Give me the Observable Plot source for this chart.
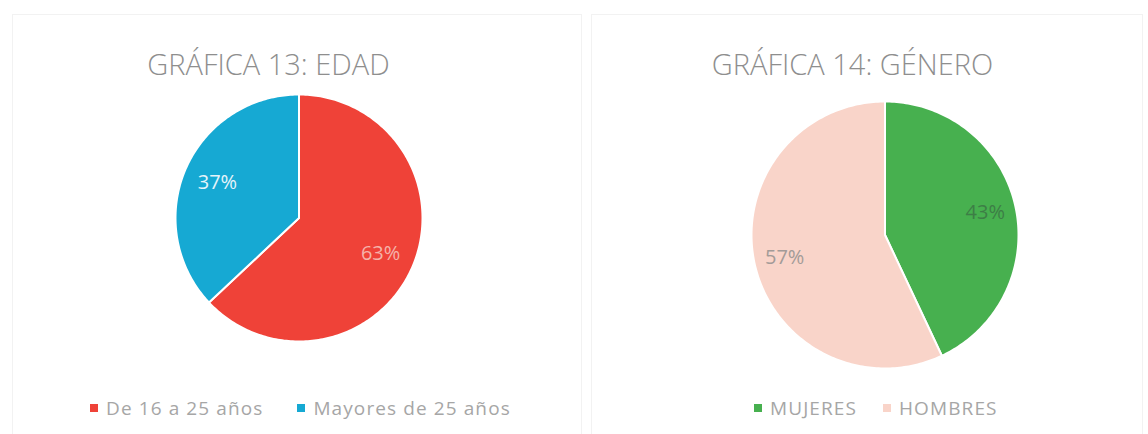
<!DOCTYPE html>
<html>
<head>
<meta charset="utf-8">
<script src="https://cdn.jsdelivr.net/npm/d3@7"></script>
<script src="https://cdn.jsdelivr.net/npm/@observablehq/plot@0.6"></script>
<style>
  html, body { margin: 0; padding: 0; background: #fff; }
  body { width: 1148px; height: 434px; position: relative; overflow: hidden; font-family: "Open Sans", sans-serif; }
  .panel { position: absolute; border: 1px solid #f2f2f2; box-sizing: border-box; }
  .title { position: absolute; transform: translate(-50%, -50%); white-space: nowrap; font-size: 29px; color: #8e8e8e; font-weight: 300; }
  .pie { position: absolute; }
  .legend { position: absolute; display: flex; align-items: center; white-space: nowrap; font-size: 19px; letter-spacing: 1.1px; color: #a6a6a6; transform: translateY(-50%); }
  .legend .item { display: flex; align-items: center; }
  .legend .sw { width: 8px; height: 8px; margin-right: 8px; }
</style>
</head>
<body>
<script>
// ---- data ----
const edadTitulo = "GRÁFICA 13: EDAD";
const edadCategorias = ["De 16 a 25 años", "Mayores de 25 años"];
const edadValores = [63, 37];
const edadEtiquetas = ["63%", "37%"];

const generoTitulo = "GRÁFICA 14: GÉNERO";
const generoCategorias = ["MUJERES", "HOMBRES"];
const generoValores = [43, 57];
const generoEtiquetas = ["43%", "57%"];

// ---- styles ----
const edadColores = ["#ef4238", "#16a9d3"];
const edadColoresTexto = ["#f5b3aa", "#e6f4fa"];
const generoColores = ["#47b04f", "#f9d4c9"];
const generoColoresTexto = ["#3d7e46", "#a39b98"];

function drawPanel(cfg) {
  const {cats, vals, labels, colors, textColors, cx, cy, r, labelFrac, titleText, tx, ty, legendX, legendY, legendGap} = cfg;
  const total = d3.sum(vals);
  const pad = 3;
  const S = 2 * (r + pad);
  // slice polygons from the values (clockwise from 12 o'clock)
  const pts = [];
  const lab = [];
  let acc = 0;
  cats.forEach((c, i) => {
    const a0 = acc / total * 2 * Math.PI;
    acc += vals[i];
    const a1 = acc / total * 2 * Math.PI;
    pts.push({cat: c, x: 0, y: 0});
    const n = Math.max(2, Math.ceil((a1 - a0) / (Math.PI / 180)));
    for (let k = 0; k <= n; k++) {
      const a = a0 + (a1 - a0) * k / n;
      pts.push({cat: c, x: r * Math.sin(a), y: r * Math.cos(a)});
    }
    const am = (a0 + a1) / 2;
    lab.push({text: labels[i], color: textColors[i], x: r * labelFrac * Math.sin(am), y: r * labelFrac * Math.cos(am)});
  });

  const plot = Plot.plot({
    width: S, height: S,
    margin: 0,
    x: {domain: [-(r + pad), r + pad], axis: null},
    y: {domain: [-(r + pad), r + pad], axis: null},
    color: {domain: cats, range: colors},
    style: {background: "transparent", overflow: "visible"},
    marks: [
      Plot.line(pts, {x: "x", y: "y", z: "cat", fill: "cat", stroke: "white", strokeWidth: 2, curve: "linear-closed", strokeLinejoin: "round"}),
      ...lab.map(d => Plot.text([d], {x: "x", y: "y", text: "text", fill: d.color, fontSize: 20, fontFamily: "Open Sans, sans-serif"}))
    ]
  });
  plot.classList.add("pie");
  plot.style.left = (cx - S / 2) + "px";
  plot.style.top = (cy - S / 2) + "px";
  document.body.appendChild(plot);

  const t = document.createElement("div");
  t.className = "title";
  t.textContent = titleText;
  t.style.left = tx + "px";
  t.style.top = ty + "px";
  document.body.appendChild(t);

  const lg = document.createElement("div");
  lg.className = "legend";
  lg.style.left = legendX + "px";
  lg.style.top = legendY + "px";
  cats.forEach((c, i) => {
    const it = document.createElement("div");
    it.className = "item";
    if (i > 0) it.style.marginLeft = legendGap + "px";
    const sw = document.createElement("div");
    sw.className = "sw";
    sw.style.background = colors[i];
    const tx2 = document.createElement("span");
    tx2.textContent = c;
    it.appendChild(sw); it.appendChild(tx2);
    lg.appendChild(it);
  });
  document.body.appendChild(lg);
}

// panel frames
[[12, 14, 570, 430], [591, 14, 552, 430]].forEach(([l, t, w, h]) => {
  const p = document.createElement("div");
  p.className = "panel";
  p.style.left = l + "px"; p.style.top = t + "px"; p.style.width = w + "px"; p.style.height = h + "px";
  document.body.appendChild(p);
});

drawPanel({
  cats: edadCategorias, vals: edadValores, labels: edadEtiquetas,
  colors: edadColores, textColors: edadColoresTexto,
  cx: 298.5, cy: 217.5, r: 123.5, labelFrac: 0.72,
  titleText: edadTitulo, tx: 268.5, ty: 63,
  legendX: 90, legendY: 408, legendGap: 34
});

drawPanel({
  cats: generoCategorias, vals: generoValores, labels: generoEtiquetas,
  colors: generoColores, textColors: generoColoresTexto,
  cx: 884.5, cy: 234, r: 133.5, labelFrac: 0.77,
  titleText: generoTitulo, tx: 852.5, ty: 63,
  legendX: 754, legendY: 408, legendGap: 26
});
</script>
</body>
</html>
